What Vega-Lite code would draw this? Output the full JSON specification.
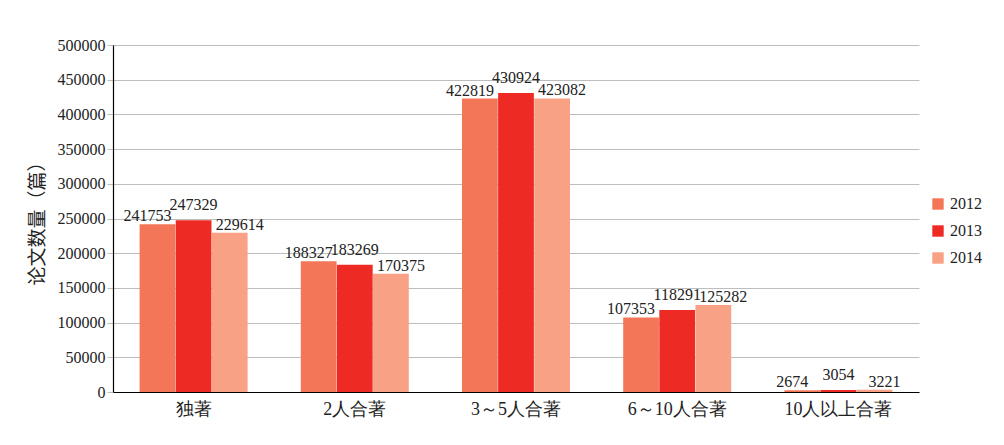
{
  "$schema": "https://vega.github.io/schema/vega-lite/v6.json",
  "width": 806,
  "height": 347,
  "autosize": {"type": "none"},
  "padding": {"left": 113, "top": 45, "right": 85, "bottom": 53},
  "config": {
    "view": {"stroke": null},
    "font": "Times New Roman, Liberation Serif, serif",
    "axis": {"labelFont": "Times New Roman, Liberation Serif, serif", "titleFont": "Noto Sans CJK SC", "labelColor": "#222", "titleColor": "#222"},
    "legend": {"labelFont": "Times New Roman, Liberation Serif, serif"}
  },
  "data": {
    "values": [
      {"cat": "独著", "year": "2012", "value": 241753},
      {"cat": "独著", "year": "2013", "value": 247329},
      {"cat": "独著", "year": "2014", "value": 229614},
      {"cat": "2人合著", "year": "2012", "value": 188327},
      {"cat": "2人合著", "year": "2013", "value": 183269},
      {"cat": "2人合著", "year": "2014", "value": 170375},
      {"cat": "3～5人合著", "year": "2012", "value": 422819},
      {"cat": "3～5人合著", "year": "2013", "value": 430924},
      {"cat": "3～5人合著", "year": "2014", "value": 423082},
      {"cat": "6～10人合著", "year": "2012", "value": 107353},
      {"cat": "6～10人合著", "year": "2013", "value": 118291},
      {"cat": "6～10人合著", "year": "2014", "value": 125282},
      {"cat": "10人以上合著", "year": "2012", "value": 2674},
      {"cat": "10人以上合著", "year": "2013", "value": 3054},
      {"cat": "10人以上合著", "year": "2014", "value": 3221}
    ]
  },
  "encoding": {
    "x": {
      "field": "cat", "type": "nominal",
      "sort": ["独著", "2人合著", "3～5人合著", "6～10人合著", "10人以上合著"],
      "scale": {"paddingInner": 0.33, "paddingOuter": 0.165},
      "axis": {"title": null, "labelAngle": 0, "labelFontSize": 18, "labelPadding": 8, "ticks": false, "domainColor": "#000", "domainWidth": 1.2}
    },
    "xOffset": {"field": "year", "type": "nominal", "scale": {"paddingInner": 0.01}},
    "y": {
      "field": "value", "type": "quantitative",
      "scale": {"domain": [0, 500000], "nice": false},
      "axis": {
        "values": [0, 50000, 100000, 150000, 200000, 250000, 300000, 350000, 400000, 450000, 500000],
        "format": "d",
        "title": "论文数量（篇）", "titleFontSize": 19, "titleFontWeight": "normal", "titlePadding": 10,
        "labelFontSize": 16, "labelPadding": 2,
        "gridColor": "#bdbdbd", "tickColor": "#bdbdbd", "tickSize": 6,
        "domainColor": "#000", "domainWidth": 1.2
      }
    }
  },
  "layer": [
    {
      "mark": {"type": "bar"},
      "encoding": {
        "color": {
          "field": "year", "type": "nominal",
          "scale": {"range": ["#F47659", "#EE2A24", "#F9A184"]},
          "legend": {"title": null, "orient": "none", "legendX": 817, "legendY": 151, "symbolType": "square", "symbolSize": 130, "symbolStrokeWidth": 0, "labelFontSize": 16, "labelColor": "#222", "rowPadding": 11}
        }
      }
    },
    {
      "transform": [{"filter": "datum.year == '2012'"}],
      "mark": {"type": "text", "baseline": "alphabetic", "dy": -3, "dx": -10, "fontSize": 16, "color": "#222"},
      "encoding": {"text": {"field": "value", "type": "quantitative", "format": "d"}}
    },
    {
      "transform": [{"filter": "datum.year == '2014'"}],
      "mark": {"type": "text", "baseline": "alphabetic", "dy": -3, "dx": 10, "fontSize": 16, "color": "#222"},
      "encoding": {"text": {"field": "value", "type": "quantitative", "format": "d"}}
    },
    {
      "transform": [{"filter": "datum.year == '2013'"}],
      "mark": {"type": "text", "baseline": "alphabetic", "dy": -10, "fontSize": 16, "color": "#222"},
      "encoding": {"text": {"field": "value", "type": "quantitative", "format": "d"}}
    }
  ]
}
